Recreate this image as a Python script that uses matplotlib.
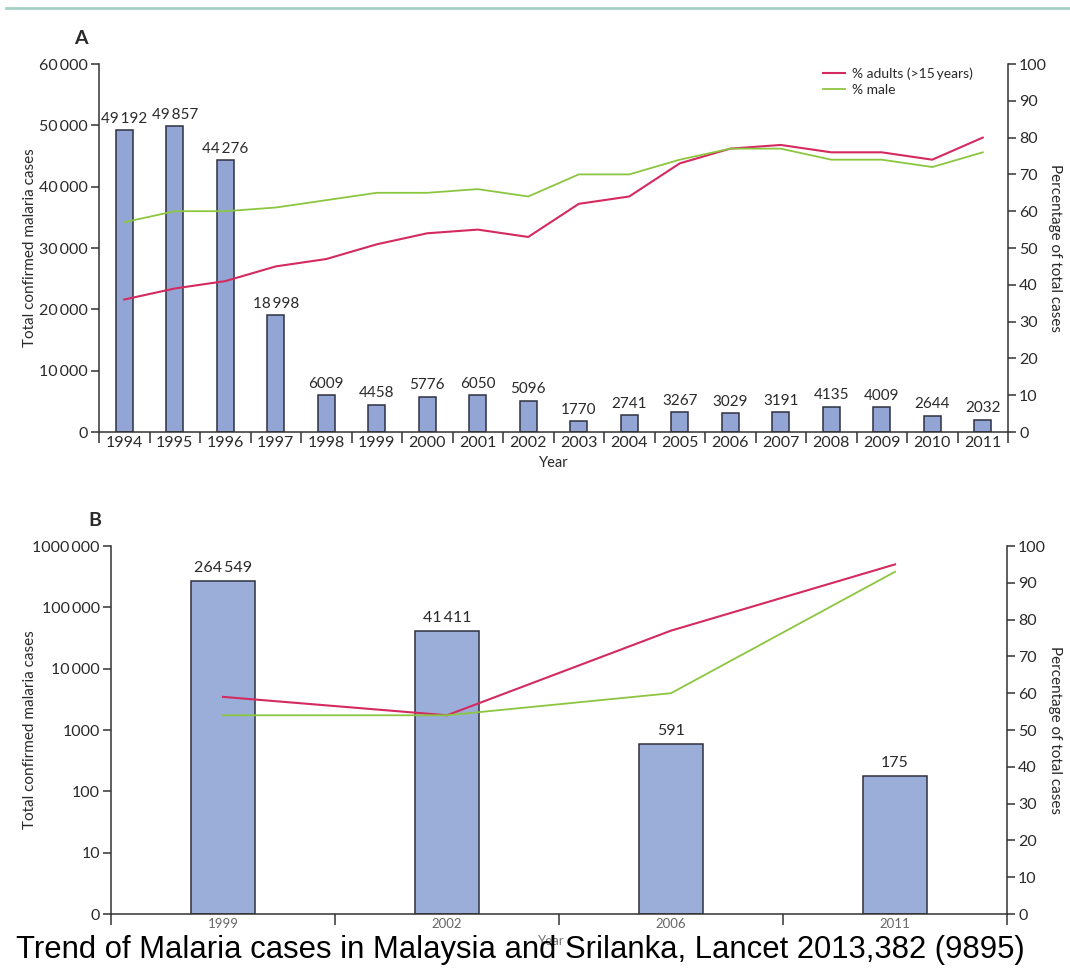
import matplotlib
matplotlib.use('Agg')
import matplotlib.pyplot as plt
from matplotlib.lines import Line2D
import numpy as np

plt.rcParams['font.family'] = ['Lato', 'DejaVu Sans']

# Malaysia, 1994-2011
years_a = ['1994', '1995', '1996', '1997', '1998', '1999', '2000', '2001', '2002',
           '2003', '2004', '2005', '2006', '2007', '2008', '2009', '2010', '2011']
cases_a = [49192, 49857, 44276, 18998, 6009, 4458, 5776, 6050, 5096,
           1770, 2741, 3267, 3029, 3191, 4135, 4009, 2644, 2032]
adults_a = [36, 39, 41, 45, 47, 51, 54, 55, 53, 62, 64, 73, 77, 78, 76, 76, 74, 80]
male_a = [57, 60, 60, 61, 63, 65, 65, 66, 64, 70, 70, 74, 77, 77, 74, 74, 72, 76]

# Sri Lanka
years_b = ['1999', '2002', '2006', '2011']
cases_b = [264549, 41411, 591, 175]
adults_b = [59, 54, 77, 95]
male_b = [54, 54, 60, 93]

left_ticks_a = [0, 10000, 20000, 30000, 40000, 50000, 60000]
left_ticks_b = [1, 10, 100, 1000, 10000, 100000, 1000000]
left_labels_b = ['0', '10', '100', '1000', '10\u2009000', '100\u2009000', '1000\u2009000']
pct_ticks = list(range(0, 101, 10))

BAR_A = '#93a5d5'
BAR_B = '#9baed9'
EDGE = '#2e3040'
RED = '#d42a5f'
GREEN = '#8cc641'
AXIS = '#333333'
TXT = '#2a2a2a'


def fmt(v):
    s = str(v)
    if len(s) > 4:
        s = s[:-3] + '\u2009' + s[-3:]
    return s


def style_axes(ax, twin):
    ax.spines['top'].set_visible(False)
    twin.spines['top'].set_visible(False)
    ax.spines['right'].set_visible(False)
    for sp in ['left', 'bottom']:
        ax.spines[sp].set_color(AXIS)
        ax.spines[sp].set_linewidth(1.1)
    twin.spines['left'].set_visible(False)
    twin.spines['bottom'].set_visible(False)
    twin.spines['right'].set_color(AXIS)
    twin.spines['right'].set_linewidth(1.1)
    ax.tick_params(axis='y', direction='out', length=6, width=1.1, color=AXIS,
                   labelsize=11.5, labelcolor=TXT, pad=2)
    twin.tick_params(axis='y', direction='out', length=6, width=1.1, color=AXIS,
                     labelsize=11.5, labelcolor=TXT, pad=2)
    twin.set_ylim(0, 100)
    twin.set_yticks(pct_ticks)


fig = plt.figure(figsize=(10.7, 9.69), dpi=100)

# thin rule across the top
fig.add_artist(Line2D([0.006, 1.0], [1 - 8 / 969, 1 - 8 / 969], color='#a6d0c6', lw=2))

# ---- panel A ----
ax = fig.add_axes([99 / 1070, 1 - 432 / 969, 909 / 1070, 368 / 969])
twin = ax.twinx()
x = np.arange(len(years_a))
ax.bar(x, cases_a, width=0.34, color=BAR_A, edgecolor=EDGE, linewidth=1.1, zorder=2)
for xi, v in zip(x, cases_a):
    ax.text(xi, v + 700, fmt(v), ha='center', va='bottom', fontsize=11, color=TXT)
ax.set_xlim(-0.5, len(years_a) - 0.5)
ax.set_ylim(0, 60000)
ax.set_yticks(left_ticks_a)
ax.set_yticklabels([fmt(t) for t in left_ticks_a])
ax.set_xticks(np.arange(len(years_a) + 1) - 0.5)
ax.set_xticklabels([])
ax.set_xticks(x, minor=True)
ax.set_xticklabels(years_a, minor=True)
ax.tick_params(axis='x', which='major', direction='out', length=8, width=1.1, color=AXIS)
ax.tick_params(axis='x', which='minor', length=0, labelsize=11.5, labelcolor=TXT, pad=3)
style_axes(ax, twin)
twin.plot(x, adults_a, color=RED, lw=1.5, label='% adults (>15\u2009years)')
twin.plot(x, male_a, color=GREEN, lw=1.3, label='% male')
twin.legend(loc='upper right', bbox_to_anchor=(0.975, 1.025), frameon=False, fontsize=10,
            handlelength=1.6, handletextpad=0.5, labelspacing=0.3, labelcolor=TXT)
ax.set_ylabel('Total confirmed malaria cases', fontsize=11, color=TXT)
ax.yaxis.set_label_coords(-0.068, 0.5)
twin.set_ylabel('Percentage of total cases', fontsize=11, color=TXT, rotation=-90, va='center')
twin.yaxis.set_label_coords(1.052, 0.5)
ax.set_xlabel('Year', fontsize=10.5, color=TXT, labelpad=4)
fig.text(81 / 1070, 1 - 39 / 969, 'A', fontsize=14, fontweight='bold', color=TXT,
         ha='center', va='center')

# ---- panel B ----
bx = fig.add_axes([111 / 1070, 1 - 914 / 969, 896 / 1070, 368 / 969])
twin_b = bx.twinx()
xb = np.arange(len(years_b))
bx.set_yscale('log')
bx.bar(xb, np.array(cases_b) - 1, bottom=1, width=0.29, color=BAR_B, edgecolor=EDGE,
       linewidth=1.1, zorder=2)
for xi, v in zip(xb, cases_b):
    bx.text(xi, v * 1.25, fmt(v), ha='center', va='bottom', fontsize=11.5, color=TXT)
bx.set_xlim(-0.5, len(years_b) - 0.5)
bx.set_ylim(1, 1000000)
bx.set_yticks(left_ticks_b)
bx.set_yticklabels(left_labels_b)
bx.minorticks_off()
bx.set_xticks(np.arange(len(years_b) + 1) - 0.5)
bx.set_xticklabels([])
bx.set_xticks(xb, minor=True)
bx.set_xticklabels(years_b, minor=True)
bx.tick_params(axis='x', which='major', direction='out', length=8, width=1.1, color=AXIS)
bx.tick_params(axis='x', which='minor', length=0, labelsize=9.5, labelcolor='#666666', pad=3)
style_axes(bx, twin_b)
twin_b.plot(xb, adults_b, color=RED, lw=1.5)
twin_b.plot(xb, male_b, color=GREEN, lw=1.3)
bx.set_ylabel('Total confirmed malaria cases', fontsize=11, color=TXT)
bx.yaxis.set_label_coords(-0.083, 0.5)
twin_b.set_ylabel('Percentage of total cases', fontsize=11, color=TXT, rotation=-90, va='center')
twin_b.yaxis.set_label_coords(1.054, 0.5)
fig.text(551 / 1070, 1 - 941 / 969, 'Year', fontsize=9.5, color='#777777',
         ha='center', va='center')
fig.text(95 / 1070, 1 - 520 / 969, 'B', fontsize=14, fontweight='bold', color=TXT,
         ha='center', va='center')

fig.text(16 / 1070, 1 - 958 / 969,
         'Trend of Malaria cases in Malaysia and Srilanka, Lancet 2013,382 (9895)',
         fontsize=22.3, family='Liberation Sans', color='black', ha='left', va='baseline')

fig.savefig('out.png', dpi=100)
